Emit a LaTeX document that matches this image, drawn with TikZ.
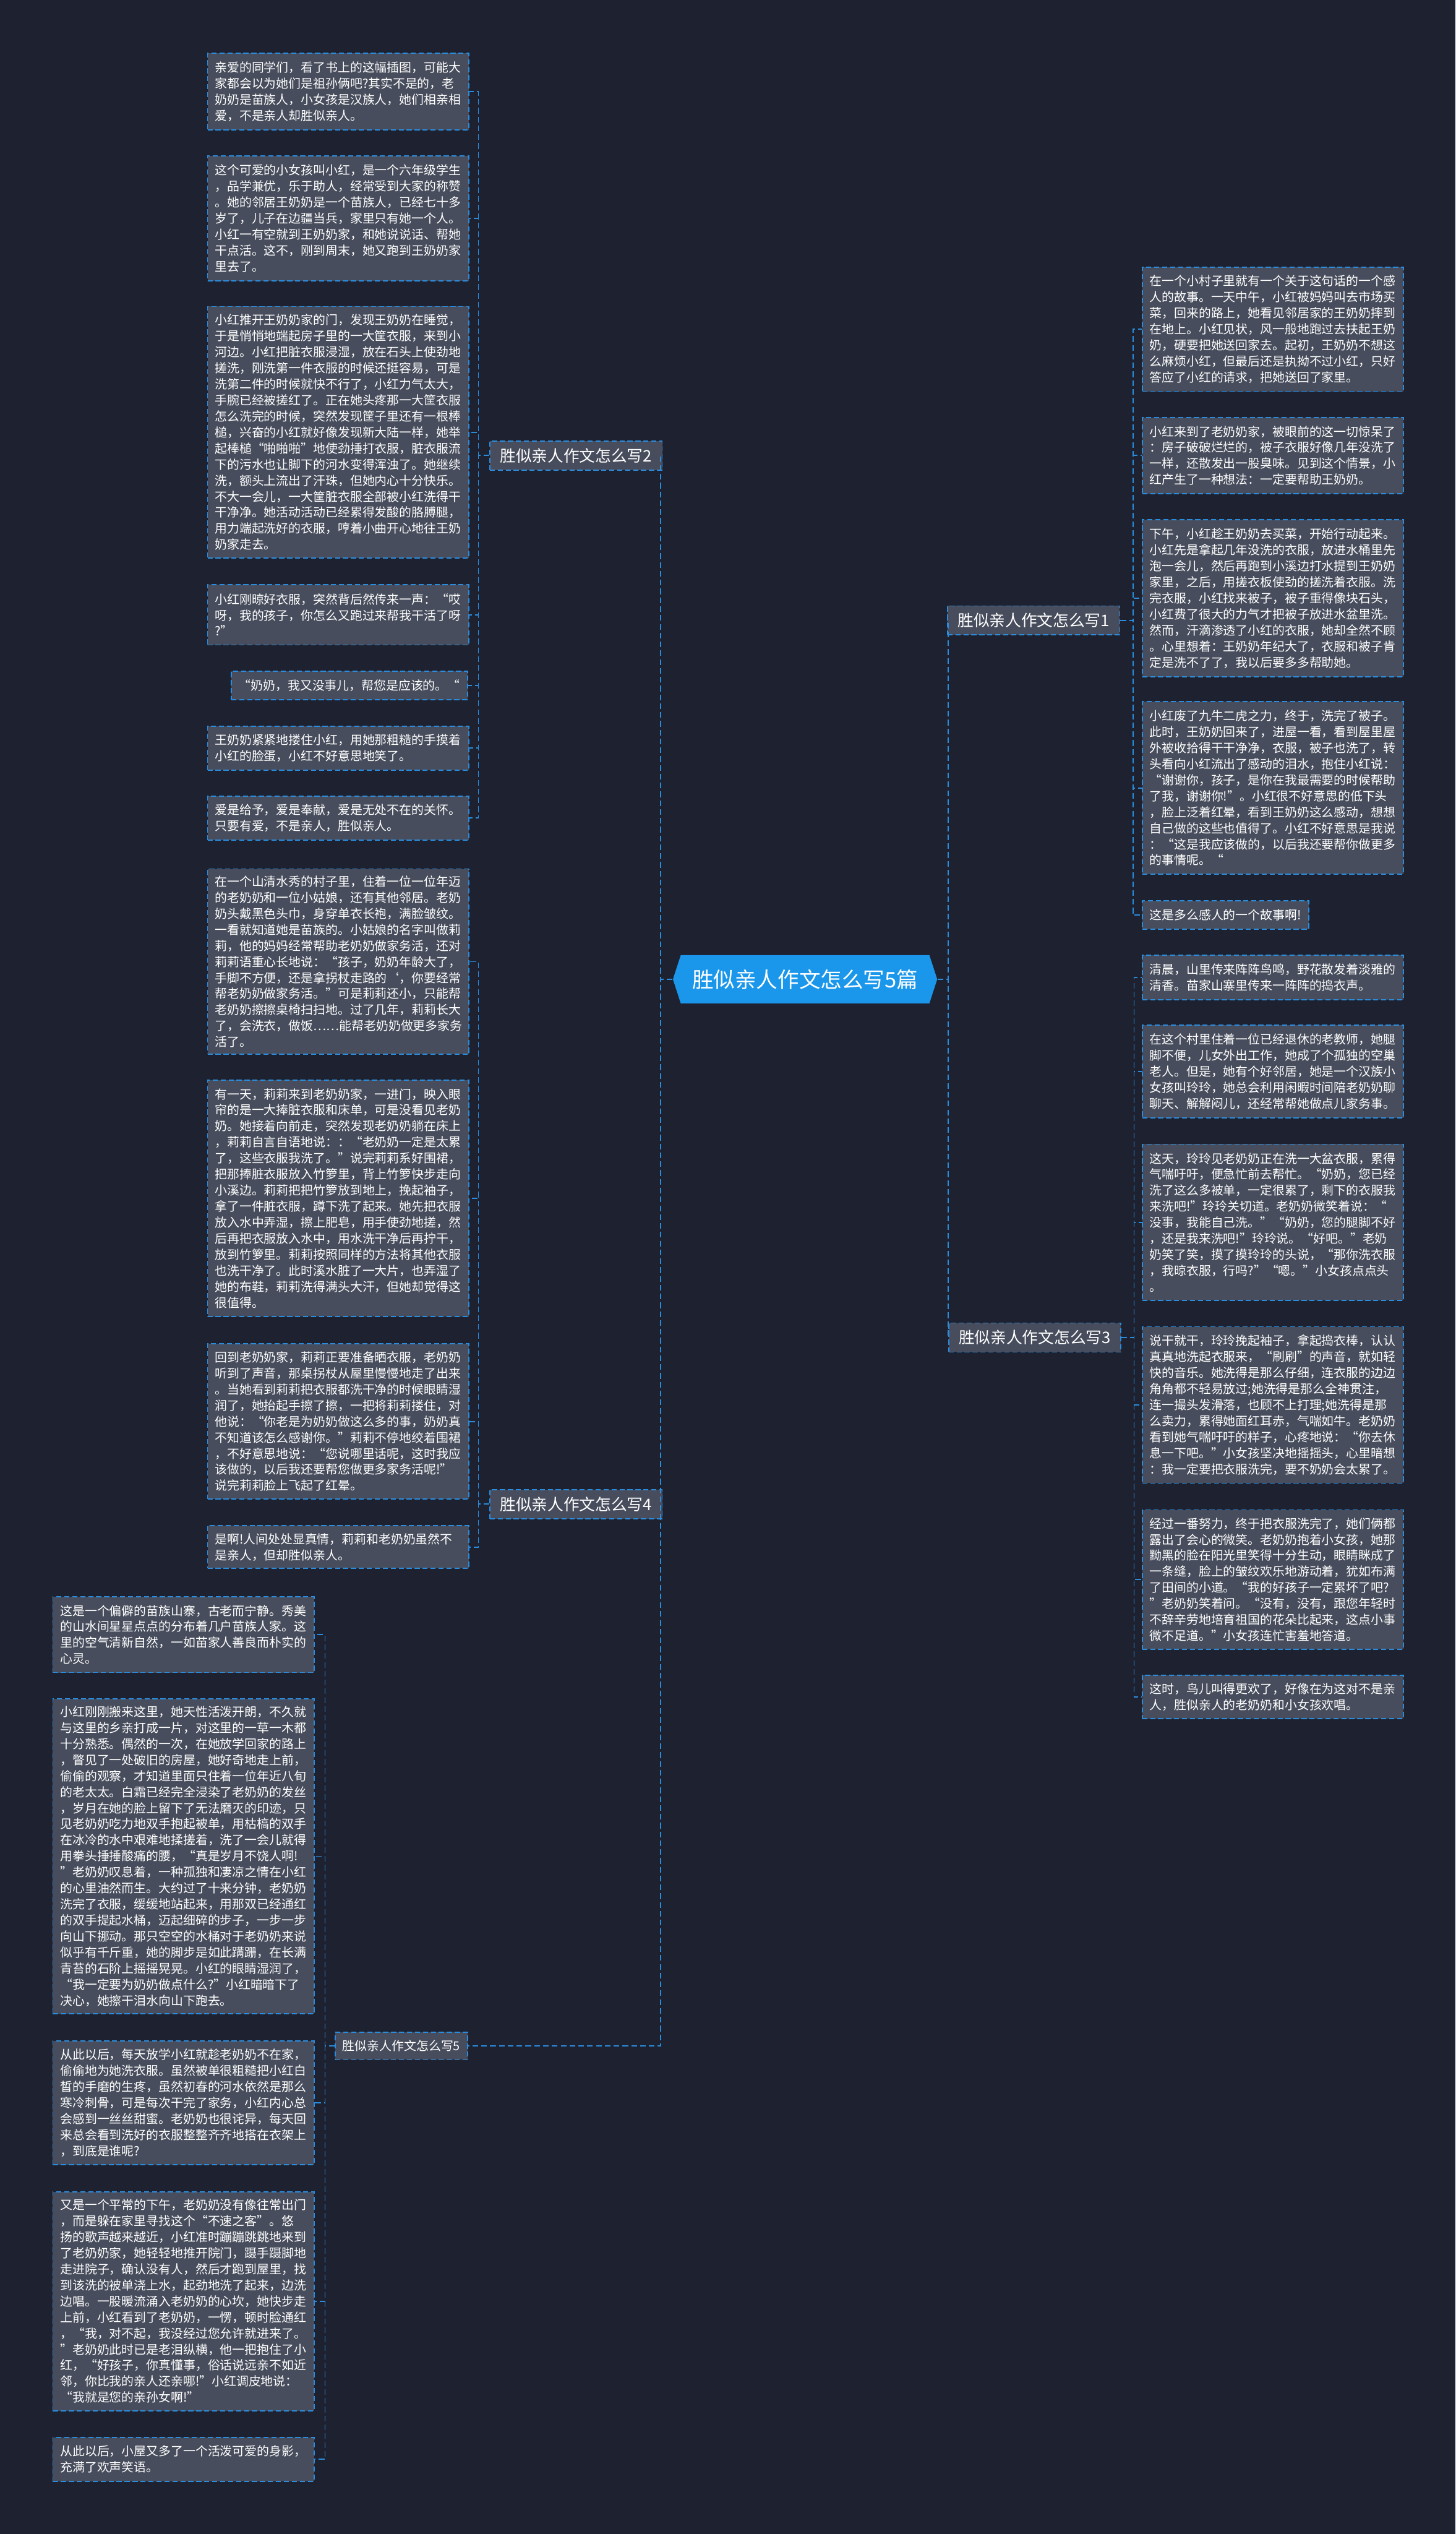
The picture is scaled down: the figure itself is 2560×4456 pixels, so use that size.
\documentclass[tikz,border=0pt]{standalone}
\usepackage{fontspec}
\setmainfont{Noto Sans CJK SC}
\definecolor{mBack}{HTML}{1E2230}
\definecolor{mSlate}{HTML}{474D5C}
\definecolor{mLink}{HTML}{2A8CDD}
\definecolor{mRoot}{HTML}{1A96EB}
\usepackage{tikz}
\usetikzlibrary{positioning,shapes.symbols}
\tikzset{
  link/.style={draw=mLink, line width=0.02cm, dash pattern=on 0.1cm off 0.055cm},
  storybox/.style={draw=mLink, fill=mSlate, line width=0.02cm, dash pattern=on 0.09cm off 0.05cm, text=white, anchor=north west, align=left, inner xsep=0.13cm, inner ysep=0cm, font=\fontsize{6.15pt}{8.02pt}\selectfont},
  topicbox/.style={draw=mLink, fill=mSlate, line width=0.02cm, dash pattern=on 0.09cm off 0.05cm, text=white, inner xsep=0.18cm, inner ysep=0cm, minimum height=0.51cm, font=\fontsize{7.95pt}{9pt}\selectfont},
  rootbox/.style={signal, signal to=west and east, signal pointer angle=144, fill=mRoot, text=white, inner xsep=0.2cm, minimum height=0.85cm, minimum width=4.34cm, font=\fontsize{10.7pt}{12pt}\selectfont}
}
\newcommand{\storynode}[5]{%
 \node[storybox, text width=4.33cm, minimum height=#4cm] (#1) at (#2,#3) {#5};}

\begin{document}
\begin{tikzpicture}[x=0.01cm, y=-0.01cm]
\fill[mBack] (0,0) rectangle (2560,4456);
\useasboundingbox (0,0) rectangle (2560,4456);

% root and branch labels
\node[rootbox] (root) at (1416,1722) {胜似亲人作文怎么写5篇};
\node[topicbox] (b1) at (1818,1091) {胜似亲人作文怎么写1};
\node[topicbox] (b2) at (1013,801) {胜似亲人作文怎么写2};
\node[topicbox] (b3) at (1820,2352) {胜似亲人作文怎么写3};
\node[topicbox] (b4) at (1013,2645) {胜似亲人作文怎么写4};
\node[topicbox, inner xsep=0.13cm, minimum height=0.48cm, font=\fontsize{6.15pt}{8pt}\selectfont] (b5) at (706,3598) {胜似亲人作文怎么写5};

% branch 2
\storynode{c21}{364}{93}{1.34}{亲爱的同学们，看了书上的这幅插图，可能大\\家都会以为她们是祖孙俩吧?其实不是的，老\\奶奶是苗族人，小女孩是汉族人，她们相亲相\\爱，不是亲人却胜似亲人。}
\storynode{c22}{364}{273}{2.20}{这个可爱的小女孩叫小红，是一个六年级学生\\，品学兼优，乐于助人，经常受到大家的称赞\\。她的邻居王奶奶是一个苗族人，已经七十多\\岁了，儿子在边疆当兵，家里只有她一个人。\\小红一有空就到王奶奶家，和她说说话、帮她\\干点活。这不，刚到周末，她又跑到王奶奶家\\里去了。}
\storynode{c23}{364}{538}{4.42}{小红推开王奶奶家的门，发现王奶奶在睡觉，\\于是悄悄地端起房子里的一大筐衣服，来到小\\河边。小红把脏衣服浸湿，放在石头上使劲地\\搓洗，刚洗第一件衣服的时候还挺容易，可是\\洗第二件的时候就快不行了，小红力气太大，\\手腕已经被搓红了。正在她头疼那一大筐衣服\\怎么洗完的时候，突然发现筐子里还有一根棒\\槌，兴奋的小红就好像发现新大陆一样，她举\\起棒槌“啪啪啪”地使劲捶打衣服，脏衣服流\\下的污水也让脚下的河水变得浑浊了。她继续\\洗，额头上流出了汗珠，但她内心十分快乐。\\不大一会儿，一大筐脏衣服全部被小红洗得干\\干净净。她活动活动已经累得发酸的胳膊腿，\\用力端起洗好的衣服，哼着小曲开心地往王奶\\奶家走去。}
\storynode{c24}{364}{1027}{1.06}{小红刚晾好衣服，突然背后然传来一声：“哎\\呀，我的孩子，你怎么又跑过来帮我干活了呀\\?”}
\node[storybox, anchor=north east, minimum width=4.15cm, minimum height=0.50cm] (c25) at (823,1179) {“奶奶，我又没事儿，帮您是应该的。“};
\storynode{c26}{364}{1276}{0.77}{王奶奶紧紧地搂住小红，用她那粗糙的手摸着\\小红的脸蛋，小红不好意思地笑了。}
\storynode{c27}{364}{1399}{0.77}{爱是给予，爱是奉献，爱是无处不在的关怀。\\只要有爱，不是亲人，胜似亲人。}

% branch 4
\storynode{c41}{364}{1527}{3.26}{在一个山清水秀的村子里，住着一位一位年迈\\的老奶奶和一位小姑娘，还有其他邻居。老奶\\奶头戴黑色头巾，身穿单衣长袍，满脸皱纹。\\一看就知道她是苗族的。小姑娘的名字叫做莉\\莉，他的妈妈经常帮助老奶奶做家务活，还对\\莉莉语重心长地说：“孩子，奶奶年龄大了，\\手脚不方便，还是拿拐杖走路的`，你要经常\\帮老奶奶做家务活。”可是莉莉还小，只能帮\\老奶奶擦擦桌椅扫扫地。过了几年，莉莉长大\\了，会洗衣，做饭……能帮老奶奶做更多家务\\活了。}
\storynode{c42}{364}{1898}{4.16}{有一天，莉莉来到老奶奶家，一进门，映入眼\\帘的是一大捧脏衣服和床单，可是没看见老奶\\奶。她接着向前走，突然发现老奶奶躺在床上\\，莉莉自言自语地说：：“老奶奶一定是太累\\了，这些衣服我洗了。”说完莉莉系好围裙，\\把那捧脏衣服放入竹箩里，背上竹箩快步走向\\小溪边。莉莉把把竹箩放到地上，挽起袖子，\\拿了一件脏衣服，蹲下洗了起来。她先把衣服\\放入水中弄湿，擦上肥皂，用手使劲地搓，然\\后再把衣服放入水中，用水洗干净后再拧干，\\放到竹箩里。莉莉按照同样的方法将其他衣服\\也洗干净了。此时溪水脏了一大片，也弄湿了\\她的布鞋，莉莉洗得满头大汗，但她却觉得这\\很值得。}
\storynode{c43}{364}{2362}{2.73}{回到老奶奶家，莉莉正要准备晒衣服，老奶奶\\听到了声音，那桌拐杖从屋里慢慢地走了出来\\。当她看到莉莉把衣服都洗干净的时候眼睛湿\\润了，她抬起手擦了擦，一把将莉莉搂住，对\\他说：“你老是为奶奶做这么多的事，奶奶真\\不知道该怎么感谢你。”莉莉不停地绞着围裙\\，不好意思地说：“您说哪里话呢，这时我应\\该做的，以后我还要帮您做更多家务活呢!”\\说完莉莉脸上飞起了红晕。}
\storynode{c44}{364}{2682}{0.75}{是啊!人间处处显真情，莉莉和老奶奶虽然不\\是亲人，但却胜似亲人。}

% branch 5
\storynode{c51}{92}{2807}{1.33}{这是一个偏僻的苗族山寨，古老而宁静。秀美\\的山水间星星点点的分布着几户苗族人家。这\\里的空气清新自然，一如苗家人善良而朴实的\\心灵。}
\storynode{c52}{92}{2986}{5.54}{小红刚刚搬来这里，她天性活泼开朗，不久就\\与这里的乡亲打成一片，对这里的一草一木都\\十分熟悉。偶然的一次，在她放学回家的路上\\，瞥见了一处破旧的房屋，她好奇地走上前，\\偷偷的观察，才知道里面只住着一位年近八旬\\的老太太。白霜已经完全浸染了老奶奶的发丝\\，岁月在她的脸上留下了无法磨灭的印迹，只\\见老奶奶吃力地双手抱起被单，用枯槁的双手\\在冰冷的水中艰难地揉搓着，洗了一会儿就得\\用拳头捶捶酸痛的腰，“真是岁月不饶人啊!\\”老奶奶叹息着，一种孤独和凄凉之情在小红\\的心里油然而生。大约过了十来分钟，老奶奶\\洗完了衣服，缓缓地站起来，用那双已经通红\\的双手提起水桶，迈起细碎的步子，一步一步\\向山下挪动。那只空空的水桶对于老奶奶来说\\似乎有千斤重，她的脚步是如此蹒跚，在长满\\青苔的石阶上摇摇晃晃。小红的眼睛湿润了，\\“我一定要为奶奶做点什么?”小红暗暗下了\\决心，她擦干泪水向山下跑去。}
\storynode{c53}{92}{3588}{2.17}{从此以后，每天放学小红就趁老奶奶不在家，\\偷偷地为她洗衣服。虽然被单很粗糙把小红白\\皙的手磨的生疼，虽然初春的河水依然是那么\\寒冷刺骨，可是每次干完了家务，小红内心总\\会感到一丝丝甜蜜。老奶奶也很诧异，每天回\\来总会看到洗好的衣服整整齐齐地搭在衣架上\\，到底是谁呢?}
\storynode{c54}{92}{3853}{3.85}{又是一个平常的下午，老奶奶没有像往常出门\\，而是躲在家里寻找这个“不速之客”。悠\\扬的歌声越来越近，小红准时蹦蹦跳跳地来到\\了老奶奶家，她轻轻地推开院门，蹑手蹑脚地\\走进院子，确认没有人，然后才跑到屋里，找\\到该洗的被单浇上水，起劲地洗了起来，边洗\\边唱。一股暖流涌入老奶奶的心坎，她快步走\\上前，小红看到了老奶奶，一愣，顿时脸通红\\，“我，对不起，我没经过您允许就进来了。\\”老奶奶此时已是老泪纵横，他一把抱住了小\\红，“好孩子，你真懂事，俗话说远亲不如近\\邻，你比我的亲人还亲哪!”小红调皮地说：\\“我就是您的亲孙女啊!”}
\storynode{c55}{92}{4285}{0.77}{从此以后，小屋又多了一个活泼可爱的身影，\\充满了欢声笑语。}

% branch 1
\storynode{c11}{2008}{469}{2.18}{在一个小村子里就有一个关于这句话的一个感\\人的故事。一天中午，小红被妈妈叫去市场买\\菜，回来的路上，她看见邻居家的王奶奶摔到\\在地上。小红见状，风一般地跑过去扶起王奶\\奶，硬要把她送回家去。起初，王奶奶不想这\\么麻烦小红，但最后还是执拗不过小红，只好\\答应了小红的请求，把她送回了家里。}
\storynode{c12}{2008}{733}{1.34}{小红来到了老奶奶家，被眼前的这一切惊呆了\\：房子破破烂烂的，被子衣服好像几年没洗了\\一样，还散发出一股臭味。见到这个情景，小\\红产生了一种想法：一定要帮助王奶奶。}
\storynode{c13}{2008}{913}{2.76}{下午，小红趁王奶奶去买菜，开始行动起来。\\小红先是拿起几年没洗的衣服，放进水桶里先\\泡一会儿，然后再跑到小溪边打水提到王奶奶\\家里，之后，用搓衣板使劲的搓洗着衣服。洗\\完衣服，小红找来被子，被子重得像块石头，\\小红费了很大的力气才把被子放进水盆里洗。\\然而，汗滴渗透了小红的衣服，她却全然不顾\\。心里想着：王奶奶年纪大了，衣服和被子肯\\定是洗不了了，我以后要多多帮助她。}
\storynode{c14}{2008}{1233}{3.03}{小红废了九牛二虎之力，终于，洗完了被子。\\此时，王奶奶回来了，进屋一看，看到屋里屋\\外被收拾得干干净净，衣服，被子也洗了，转\\头看向小红流出了感动的泪水，抱住小红说：\\“谢谢你，孩子，是你在我最需要的时候帮助\\了我，谢谢你!”。小红很不好意思的低下头\\，脸上泛着红晕，看到王奶奶这么感动，想想\\自己做的这些也值得了。小红不好意思是我说\\：“这是我应该做的，以后我还要帮你做更多\\的事情呢。“}
\node[storybox, minimum width=2.9cm, minimum height=0.50cm] (c15) at (2008,1583) {这是多么感人的一个故事啊!};

% branch 3
\storynode{c31}{2008}{1679}{0.78}{清晨，山里传来阵阵鸟鸣，野花散发着淡雅的\\清香。苗家山寨里传来一阵阵的捣衣声。}
\storynode{c32}{2008}{1802}{1.63}{在这个村里住着一位已经退休的老教师，她腿\\脚不便，儿女外出工作，她成了个孤独的空巢\\老人。但是，她有个好邻居，她是一个汉族小\\女孩叫玲玲，她总会利用闲暇时间陪老奶奶聊\\聊天、解解闷儿，还经常帮她做点儿家务事。}
\storynode{c33}{2008}{2011}{2.75}{这天，玲玲见老奶奶正在洗一大盆衣服，累得\\气喘吁吁，便急忙前去帮忙。“奶奶，您已经\\洗了这么多被单，一定很累了，剩下的衣服我\\来洗吧!”玲玲关切道。老奶奶微笑着说：“\\没事，我能自己洗。”“奶奶，您的腿脚不好\\，还是我来洗吧!”玲玲说。“好吧。”老奶\\奶笑了笑，摸了摸玲玲的头说，“那你洗衣服\\，我晾衣服，行吗?”“嗯。”小女孩点点头\\。}
\storynode{c34}{2008}{2332}{2.75}{说干就干，玲玲挽起袖子，拿起捣衣棒，认认\\真真地洗起衣服来，“刷刷”的声音，就如轻\\快的音乐。她洗得是那么仔细，连衣服的边边\\角角都不轻易放过;她洗得是那么全神贯注，\\连一撮头发滑落，也顾不上打理;她洗得是那\\么卖力，累得她面红耳赤，气喘如牛。老奶奶\\看到她气喘吁吁的样子，心疼地说：“你去休\\息一下吧。”小女孩坚决地摇摇头，心里暗想\\：我一定要把衣服洗完，要不奶奶会太累了。}
\storynode{c35}{2008}{2654}{2.45}{经过一番努力，终于把衣服洗完了，她们俩都\\露出了会心的微笑。老奶奶抱着小女孩，她那\\黝黑的脸在阳光里笑得十分生动，眼睛眯成了\\一条缝，脸上的皱纹欢乐地游动着，犹如布满\\了田间的小道。“我的好孩子一定累坏了吧?\\”老奶奶笑着问。“没有，没有，跟您年轻时\\不辞辛劳地培育祖国的花朵比起来，这点小事\\微不足道。”小女孩连忙害羞地答道。}
\storynode{c36}{2008}{2945}{0.76}{这时，鸟儿叫得更欢了，好像在为这对不是亲\\人，胜似亲人的老奶奶和小女孩欢唱。}

% connectors
\draw[link] (root.west) -- ++(-21,0) |- (b2.east);
\draw[link] (root.west) -- ++(-21,0) |- (b4.east);
\draw[link] (root.west) -- ++(-21,0) |- (b5.east);
\draw[link] (root.east) -- ++(19,0) |- (b1.west);
\draw[link] (root.east) -- ++(19,0) |- (b3.west);
\foreach \c in {c21,c22,c23,c24,c25,c26,c27}
  \draw[link] (b2.west) -- ++(-19,0) |- (\c.east);
\foreach \c in {c41,c42,c43,c44}
  \draw[link] (b4.west) -- ++(-19,0) |- (\c.east);
\foreach \c in {c51,c52,c53,c54,c55}
  \draw[link] (b5.west) -- ++(-17,0) |- (\c.east);
\foreach \c in {c11,c12,c13,c14,c15}
  \draw[link] (b1.east) -- ++(22,0) |- (\c.west);
\foreach \c in {c31,c32,c33,c34,c35,c36}
  \draw[link] (b3.east) -- ++(22,0) |- (\c.west);
\end{tikzpicture}
\end{document}
